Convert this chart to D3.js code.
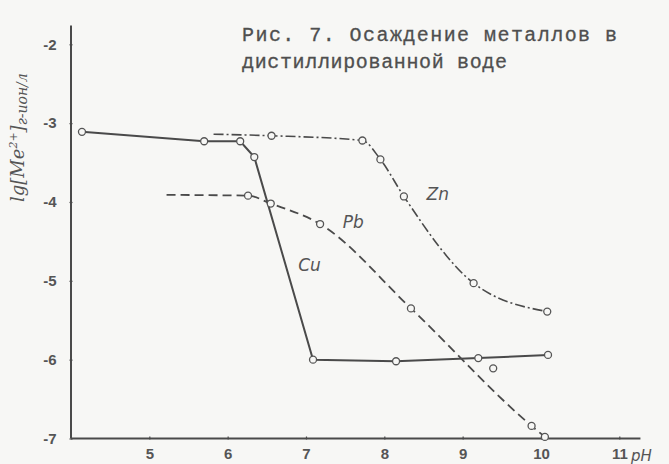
<!DOCTYPE html>
<html>
<head>
<meta charset="utf-8">
<script src="https://cdn.jsdelivr.net/npm/d3@7"></script>
<style>
  html, body { margin: 0; padding: 0; background: #f7f7f5; }
  svg { display: block; }
</style>
</head>
<body>
<svg id="chart" width="669" height="464"></svg>
<script>
// ---- data ----
const xTicks = [5, 6, 7, 8, 9, 10, 11];
const yTicks = [-2, -3, -4, -5, -6, -7];

// Cu (solid line)
const cuPH = [4.14, 5.70, 6.16, 6.34, 7.09, 8.15, 9.20, 10.09];
const cuLg = [-3.11, -3.23, -3.23, -3.43, -6.00, -6.02, -5.98, -5.94];

// Pb (dashed line); first point is the unmarked start of the line
const pbPH = [5.22, 6.26, 6.55, 7.18, 8.34, 9.88, 10.05];
const pbLg = [-3.91, -3.92, -4.02, -4.28, -5.35, -6.84, -6.98];
const pbMarked = [false, true, true, true, true, true, true];
// Pb scattered point off the curve
const pbExtraPH = [9.39];
const pbExtraLg = [-6.11];

// Zn (dash-dot line); first point is the unmarked start of the line
const znPH = [5.82, 6.56, 7.72, 7.95, 8.25, 9.14, 10.08];
const znLg = [-3.14, -3.16, -3.22, -3.46, -3.93, -5.03, -5.39];
const znMarked = [false, true, true, true, true, true, true];

const titleLines = ["Рис. 7. Осаждение металлов в", "дистиллированной воде"];

// ---- drawing ----
const svg = d3.select("#chart");
const ink = "#4a4a4a";

const x = d3.scaleLinear().domain([4, 11]).range([71, 619.3]);
const y = d3.scaleLinear().domain([-7, -2]).range([438.5, 44.3]);

// axes lines
svg.append("line").attr("x1", x(4)).attr("x2", x(4))
  .attr("y1", y(-1.76)).attr("y2", y(-7))
  .attr("stroke", ink).attr("stroke-width", 2);
svg.append("line").attr("x1", x(4)).attr("x2", x(11.27))
  .attr("y1", y(-7)).attr("y2", y(-7))
  .attr("stroke", ink).attr("stroke-width", 2);

// x axis ticks & labels
const xAxis = d3.axisBottom(x).tickValues(xTicks).tickSize(3).tickPadding(9).tickFormat(d3.format("d"));
const gx = svg.append("g").attr("transform", `translate(0,${y(-7) - 2})`).call(xAxis);
gx.select(".domain").remove();
gx.selectAll(".tick line").attr("stroke", ink).attr("stroke-width", 1.2);
gx.selectAll(".tick text").attr("fill", "#555")
  .attr("font-family", "Liberation Sans Narrow, Liberation Sans, sans-serif")
  .attr("font-size", 15).attr("font-weight", "bold");

// y axis ticks & labels
const yAxis = d3.axisLeft(y).tickValues(yTicks).tickSize(3).tickPadding(13).tickFormat(d => "-" + Math.abs(d));
const gy = svg.append("g").attr("transform", `translate(${x(4) + 1.5},0)`).call(yAxis);
gy.select(".domain").remove();
gy.selectAll(".tick line").attr("stroke", ink).attr("stroke-width", 1.2);
gy.selectAll(".tick text").attr("fill", "#555").attr("font-family", "Liberation Sans, sans-serif")
  .attr("font-size", 15).attr("font-weight", "bold");

// axis titles
svg.append("text").attr("x", 631).attr("y", 461)
  .attr("font-family", "DejaVu Sans, sans-serif").attr("font-style", "italic")
  .attr("font-size", 15).attr("fill", "#555").text("pН");

const yl = svg.append("text")
  .attr("transform", "translate(24,202) rotate(-90)")
  .attr("font-family", "DejaVu Serif, serif").attr("font-style", "italic")
  .attr("font-size", 18).attr("fill", "#555");
yl.append("tspan").text("lg[Ме");
yl.append("tspan").attr("font-size", 11).attr("dy", -7).text("2+");
yl.append("tspan").attr("dy", 7).text("]");
yl.append("tspan").attr("font-size", 14).attr("dy", 3).text("г-ион/л");

// title
svg.selectAll("text.title").data(titleLines).join("text")
  .attr("class", "title")
  .attr("x", 242).attr("y", (d, i) => 41 + i * 27)
  .attr("font-family", "Liberation Mono, monospace")
  .attr("font-size", 20).attr("fill", "#4f4f4f")
  .attr("stroke", "#4f4f4f").attr("stroke-width", 0.3)
  .attr("textLength", (d, i) => i === 0 ? 375 : 265)
  .attr("lengthAdjust", "spacing")
  .text(d => d);

// series
function pts(px, py) { return px.map((v, i) => [v, py[i]]); }
const cu = pts(cuPH, cuLg);
const pb = pts(pbPH, pbLg);
const zn = pts(znPH, znLg);

const lineLin = d3.line().x(d => x(d[0])).y(d => y(d[1]));
const lineSmooth = d3.line().x(d => x(d[0])).y(d => y(d[1])).curve(d3.curveMonotoneX);

svg.append("path").attr("d", lineLin(cu)).attr("fill", "none")
  .attr("stroke", ink).attr("stroke-width", 2);
svg.append("path").attr("d", lineSmooth(pb)).attr("fill", "none")
  .attr("stroke", ink).attr("stroke-width", 1.8).attr("stroke-dasharray", "9,5");
svg.append("path").attr("d", lineSmooth(zn)).attr("fill", "none")
  .attr("stroke", ink).attr("stroke-width", 1.6).attr("stroke-dasharray", "10,3,2,3");

function markers(data) {
  svg.append("g").selectAll("circle").data(data).join("circle")
    .attr("cx", d => x(d[0])).attr("cy", d => y(d[1])).attr("r", 3.5)
    .attr("fill", "#f7f7f5").attr("stroke", "#555").attr("stroke-width", 1.3);
}
markers(cu);
markers(pb.filter((d, i) => pbMarked[i]));
markers(pts(pbExtraPH, pbExtraLg));
markers(zn.filter((d, i) => znMarked[i]));

// series labels
const lab = { "font-family": "DejaVu Sans, sans-serif", "font-style": "italic", "font-size": 17, "fill": "#555" };
function label(txt, px, py) {
  const t = svg.append("text").attr("x", px).attr("y", py).text(txt);
  Object.entries(lab).forEach(([k, v]) => t.attr(k, v));
}
label("Zn", x(8.54), y(-3.98));
label("Pb", x(7.47), y(-4.33));
label("Cu", x(6.90), y(-4.87));
</script>
</body>
</html>
